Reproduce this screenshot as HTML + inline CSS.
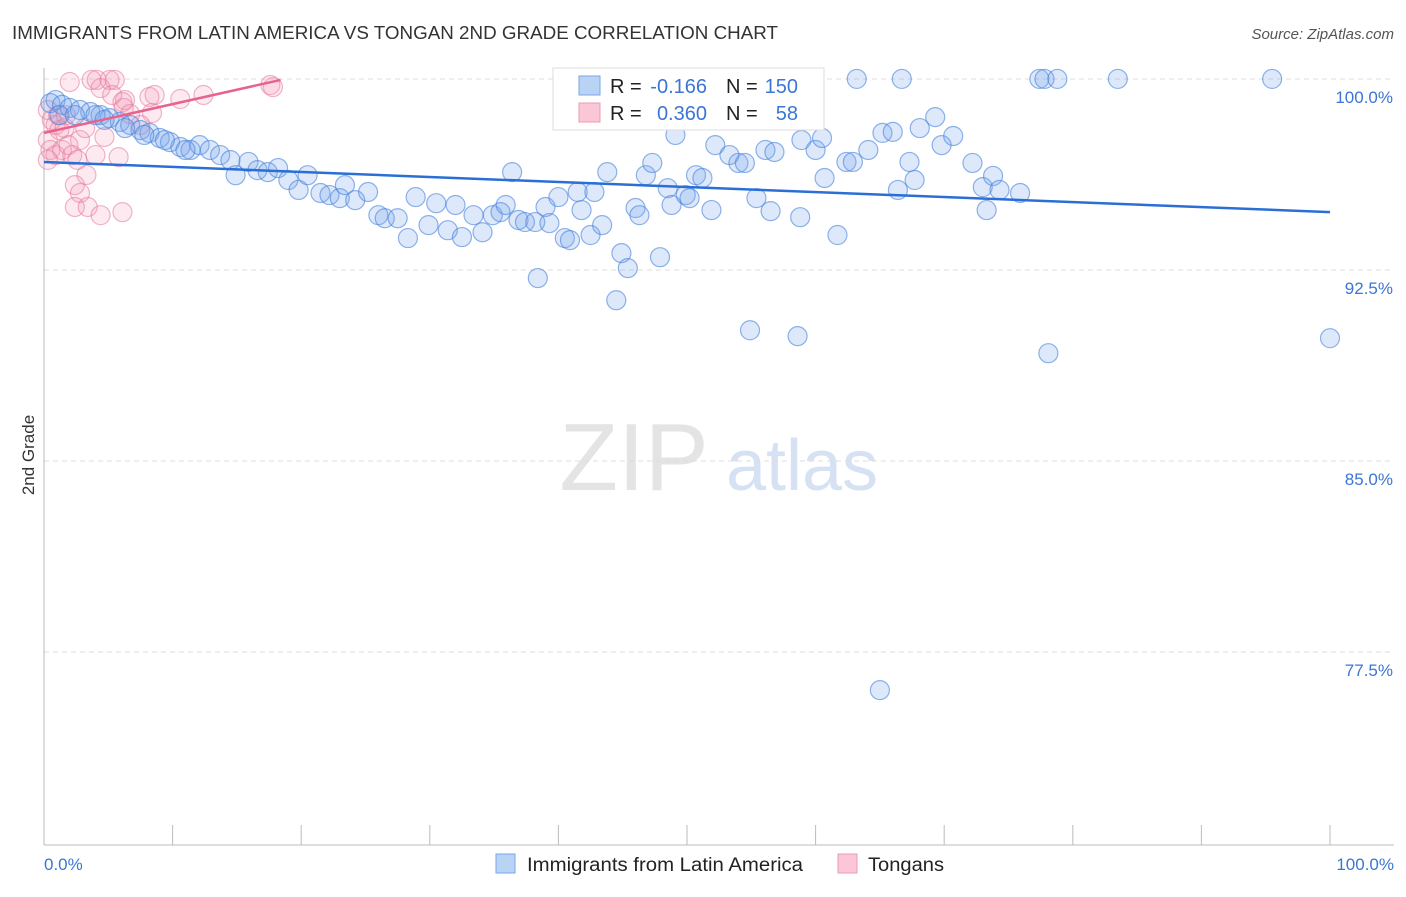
<!DOCTYPE html>
<html><head><meta charset="utf-8"><style>
body{margin:0;background:#fff;font-family:"Liberation Sans",sans-serif}
svg text{font-family:"Liberation Sans",sans-serif}
</style></head><body>
<svg id="chart" width="1406" height="892">
<text x="12" y="39" font-size="18" fill="#333" textLength="766" lengthAdjust="spacingAndGlyphs">IMMIGRANTS FROM LATIN AMERICA VS TONGAN 2ND GRADE CORRELATION CHART</text>
<text x="1394" y="39" font-size="15" fill="#555" font-style="italic" text-anchor="end">Source: ZipAtlas.com</text>
<text x="634" y="490" font-size="96" fill="#e4e4e4" font-family="Liberation Serif" text-anchor="middle">ZIP</text>
<text x="802" y="490" font-size="72" fill="#d6e2f3" text-anchor="middle">atlas</text>
<g id="grid"></g><g id="axes"></g><g id="pts"></g><g id="trend"></g>
<text transform="translate(34,455) rotate(-90)" font-size="17" fill="#333" text-anchor="middle">2nd Grade</text>
<g font-size="20">
<rect x="553" y="68" width="271" height="62" fill="#fff" stroke="#ddd"/>
<rect x="579" y="76" width="21" height="19" fill="#b9d3f5" stroke="#7aa6e6"/>
<rect x="579" y="103" width="21" height="19" fill="#fbc6d6" stroke="#ee99b3"/>
<text x="610" y="93" fill="#222">R =</text>
<text x="707" y="93" fill="#3b76d4" text-anchor="end">-0.166</text>
<text x="726" y="93" fill="#222">N =</text>
<text x="798" y="93" fill="#3b76d4" text-anchor="end">150</text>
<text x="610" y="120" fill="#222">R =</text>
<text x="707" y="120" fill="#3b76d4" text-anchor="end">0.360</text>
<text x="726" y="120" fill="#222">N =</text>
<text x="798" y="120" fill="#3b76d4" text-anchor="end">58</text>
</g>
<g>
<rect x="496" y="854" width="19" height="19" fill="#b9d3f5" stroke="#7aa6e6"/>
<text x="527" y="871" font-size="19" fill="#222" textLength="276" lengthAdjust="spacingAndGlyphs">Immigrants from Latin America</text>
<rect x="838" y="854" width="19" height="19" fill="#fbc6d6" stroke="#ee99b3"/>
<text x="868" y="871" font-size="19" fill="#222" textLength="76" lengthAdjust="spacingAndGlyphs">Tongans</text>
</g>
</svg>
<script>
const yTicks=[100,92.5,85,77.5];
const yTickLabels=["100.0%","92.5%","85.0%","77.5%"];
const xTicks=[0,10,20,30,40,50,60,70,80,90,100];
const xEndLabels=["0.0%","100.0%"];
const blueX=[0.5,0.9,1.4,2.0,2.8,3.6,4.4,5.1,5.9,6.7,7.5,8.2,9.0,9.8,10.6,11.4,12.1,12.9,13.7,14.5,14.9,15.9,16.6,17.4,18.2,19.0,19.8,20.5,21.5,22.2,23.0,23.4,24.2,25.2,26.0,26.5,27.5,28.3,28.9,29.9,30.5,31.4,32.0,32.5,33.4,34.1,34.9,35.5,35.9,36.4,36.9,37.4,38.2,38.4,39.0,39.3,40.0,40.5,40.9,41.5,41.8,42.5,42.8,43.4,43.8,44.5,44.9,45.4,46.0,46.3,46.8,47.3,47.9,48.5,48.8,49.1,49.9,50.2,50.7,51.2,51.9,52.2,53.3,54.0,54.5,54.9,55.4,56.1,56.5,56.8,57.7,58.6,58.9,58.8,60.0,60.5,60.7,61.7,62.4,62.9,63.2,64.1,65.2,66.0,66.4,66.7,67.3,67.7,68.1,69.3,69.8,70.7,72.2,73.0,73.3,73.8,74.3,75.9,77.4,77.8,78.1,78.8,83.5,95.5,100.0,65.0,54.1,57.2,1.2,2.4,4.0,4.7,6.3,7.8,9.4,11.0];
const blueY=[99.76,99.88,99.69,99.57,99.49,99.41,99.29,99.17,99.02,98.90,98.70,98.59,98.39,98.23,98.04,97.92,98.11,97.92,97.72,97.52,96.93,97.45,97.13,97.05,97.21,96.74,96.35,96.93,96.23,96.15,96.03,96.54,95.95,96.27,95.36,95.24,95.24,94.46,96.07,94.97,95.83,94.77,95.76,94.50,95.36,94.69,95.36,95.48,95.76,97.05,95.17,95.09,95.09,92.89,95.68,95.05,96.07,94.46,94.38,96.27,95.56,94.58,96.27,94.97,97.05,92.02,93.87,93.28,95.64,95.36,96.93,97.41,93.71,96.42,95.76,98.51,96.15,96.03,96.93,96.82,95.56,98.11,97.72,97.41,97.41,90.84,96.03,97.92,95.52,97.84,99.10,90.61,98.31,95.28,97.92,98.39,96.82,94.58,97.45,97.45,100.71,97.92,98.59,98.63,96.35,100.71,97.45,96.74,98.78,99.21,98.11,98.47,97.41,96.46,95.56,96.90,96.35,96.23,100.71,100.71,89.94,100.71,100.71,100.71,90.53,76.71,99.49,99.49,99.29,99.29,99.29,99.10,98.78,98.51,98.31,97.92];
const pinkX=[2.0,3.7,4.1,5.1,5.5,6.3,4.4,5.3,8.2,8.6,10.6,12.4,17.6,17.8,0.3,0.6,0.9,1.2,1.6,0.3,0.5,0.9,1.4,1.9,2.2,2.6,2.8,3.3,4.0,4.7,5.8,6.1,6.2,6.7,8.4,2.4,2.8,2.4,3.4,4.4,6.1,0.3,1.1,1.7,3.2,7.5];
const pinkY=[100.59,100.67,100.67,100.67,100.67,99.88,100.35,100.08,100.0,100.08,99.92,100.08,100.47,100.39,99.49,99.10,98.90,98.70,98.78,98.31,97.92,97.72,97.92,98.11,97.72,97.53,98.31,96.94,97.72,98.43,97.64,99.80,99.57,99.33,99.37,96.54,96.23,95.68,95.68,95.36,95.48,97.53,99.29,99.29,98.78,98.90];
const blueTrend=[[0,97.45],[100,95.48]];
const pinkTrend=[[0,98.59],[18.4,100.67]];
const X0=44,X1=1330,Y100=97,PXPER=191/7.5,PB=845;
const x=v=>X0+(v/100)*(X1-X0);
const y=v=>Y100+(100-v)*PXPER;
const NS="http://www.w3.org/2000/svg";
function mk(t,a,p){const e=document.createElementNS(NS,t);for(const k in a)e.setAttribute(k,a[k]);p.appendChild(e);return e;}
const grid=document.getElementById('grid'),axes=document.getElementById('axes'),pts=document.getElementById('pts'),tr=document.getElementById('trend');
yTicks.forEach((t,i)=>{
 const l=mk('line',{x1:X0,x2:1394,y1:y(t)-18,y2:y(t)-18,stroke:'#ddd','stroke-dasharray':'5,4'},grid);
 
 
 const tx=mk('text',{x:1393,y:y(t)+6,'font-size':17,fill:'#3b76d4','text-anchor':'end'},axes);
 tx.textContent=yTickLabels[i];
 
 
});
const ax=mk('line',{x1:X0,x2:X0,y1:68,y2:PB,stroke:'#bbb'},axes);


const bx=mk('line',{x1:X0,x2:1394,y1:PB,y2:PB,stroke:'#bbb'},axes);


xTicks.forEach(t=>{
 const l=mk('line',{x1:x(t),x2:x(t),y1:825,y2:PB,stroke:'#bbb'},axes);
 
 
});
[[0,'start',44],[100,'end',1394]].forEach((d,i)=>{
 const tx=mk('text',{x:d[2],y:870,'font-size':17,fill:'#3b76d4','text-anchor':d[1]},axes);
 tx.textContent=xEndLabels[i];
 
 
});
pinkX.forEach((v,i)=>{
 const c=mk('circle',{cx:x(v),cy:y(pinkY[i]),r:9.5,fill:'rgba(245,150,180,0.2)',stroke:'rgba(230,120,155,0.55)','stroke-width':1.2},pts);
 
 
});
blueX.forEach((v,i)=>{
 const c=mk('circle',{cx:x(v),cy:y(blueY[i]),r:9.5,fill:'rgba(120,165,235,0.25)',stroke:'rgba(70,130,220,0.6)','stroke-width':1.2},pts);
 
 
});
const bl=mk('line',{x1:x(blueTrend[0][0]),y1:y(blueTrend[0][1]),x2:x(blueTrend[1][0]),y2:y(blueTrend[1][1]),stroke:'#2a6fd6','stroke-width':2.5},tr);


const pl=mk('line',{x1:x(pinkTrend[0][0]),y1:y(pinkTrend[0][1]),x2:x(pinkTrend[1][0]),y2:y(pinkTrend[1][1]),stroke:'#e8628e','stroke-width':2.5},tr);


</script>
</body></html>
